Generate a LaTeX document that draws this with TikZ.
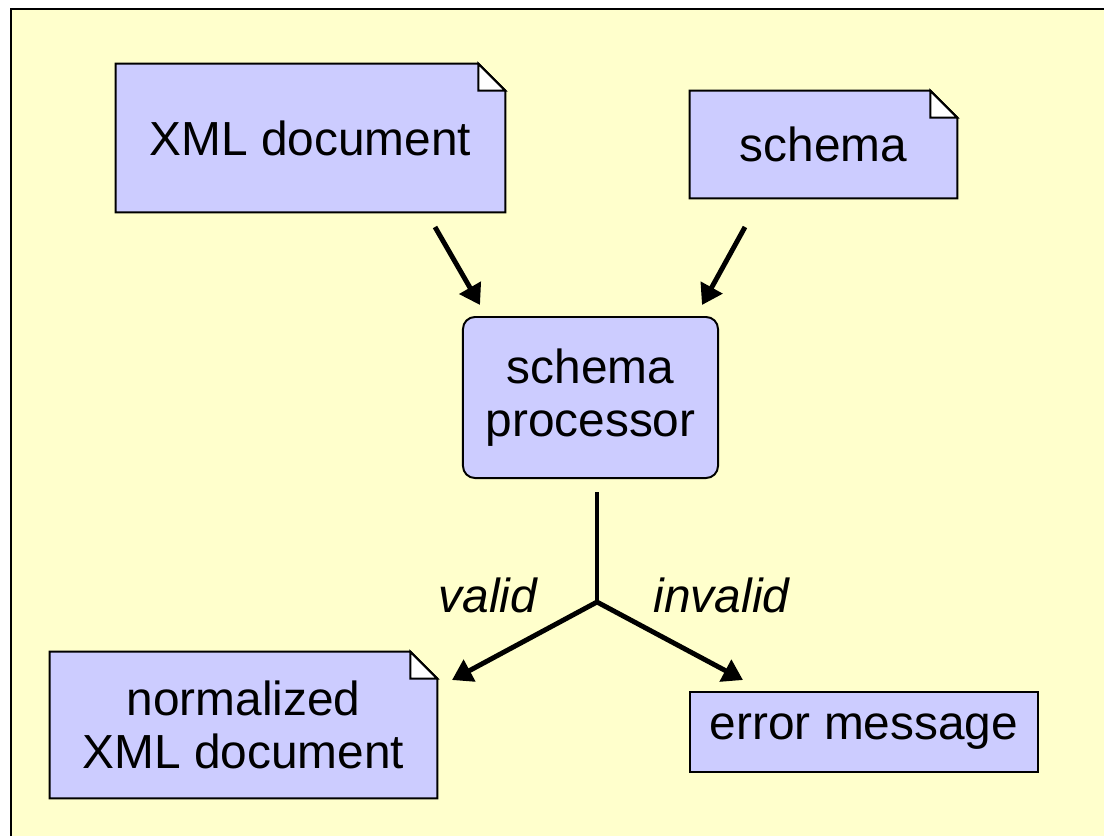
\documentclass[tikz,border=0pt]{standalone}
\usepackage{fontspec}
\setmainfont{Liberation Sans}
\usetikzlibrary{arrows.meta,backgrounds}
\definecolor{paper}{HTML}{FFFFCC}
\definecolor{boxblue}{HTML}{CCCCFF}
\tikzset{
  box/.style={font=\fontsize{34}{38}\selectfont, align=center, inner sep=0pt},
  docbox/.style={box},
  plainbox/.style={box, draw, fill=boxblue, line width=1.4pt},
  flow/.style={line width=3.5pt, -{Triangle[length=0.5cm,width=0.6cm]}},
  tag/.style={font=\fontsize{34}{38}\selectfont\itshape, anchor=base},
}
\begin{document}
\begin{tikzpicture}[x=0.025cm,y=-0.025cm]
\useasboundingbox (0,0) rectangle (1104,836);
\node[docbox, minimum width=9.725cm, minimum height=3.7cm] (xmldoc) at (310.5,138) {XML document};
\node[docbox, minimum width=6.675cm, minimum height=2.675cm] (schema) at (823.5,144.5) {schema};
\node[plainbox, rounded corners=0.3cm, minimum width=6.375cm, minimum height=4.025cm] (proc) at (590.5,397.5) {schema\\processor};
\node[docbox, minimum width=9.675cm, minimum height=3.65cm] (normdoc) at (243.5,725) {normalized\\XML document};
\node[plainbox, minimum width=8.7cm, minimum height=2cm] (errmsg) at (864,732) {error message};
\coordinate (xmlout) at (435,227);
\coordinate (procinl) at (480,305);
\coordinate (schemaout) at (745,227);
\coordinate (procinr) at (702,305);
\coordinate (procout) at (597,492);
\coordinate (fork) at (597,602);
\coordinate (normin) at (452,680);
\coordinate (errin) at (743,680);
\draw[flow] (xmlout) -- (procinl);
\draw[flow] (schemaout) -- (procinr);
\draw[line width=3.5pt] (procout) -- (fork);
\draw[flow] (fork) -- (normin);
\draw[flow] (fork) -- (errin);
\node[tag] (validlbl) at (488,612) {valid};
\node[tag] (invalidlbl) at (721.5,612) {invalid};
\begin{scope}[on background layer]
\fill[white] (0,0) rectangle (1104,836);
\fill[paper] (11,9) rectangle (1104,836);
\draw[line width=2.1pt] (11,836) -- (11,9) -- (1104,9);
\foreach \n in {xmldoc,schema,normdoc}{
  \draw[fill=boxblue, line width=1.4pt] (\n.north west) -- ([xshift=-0.675cm]\n.north east) -- ([yshift=-0.675cm]\n.north east) -- (\n.south east) -- (\n.south west) -- cycle;
  \draw[fill=white, line width=1.4pt] ([xshift=-0.675cm]\n.north east) -- ([xshift=-0.675cm,yshift=-0.675cm]\n.north east) -- ([yshift=-0.675cm]\n.north east) -- cycle;
}
\end{scope}
\end{tikzpicture}
\end{document}
